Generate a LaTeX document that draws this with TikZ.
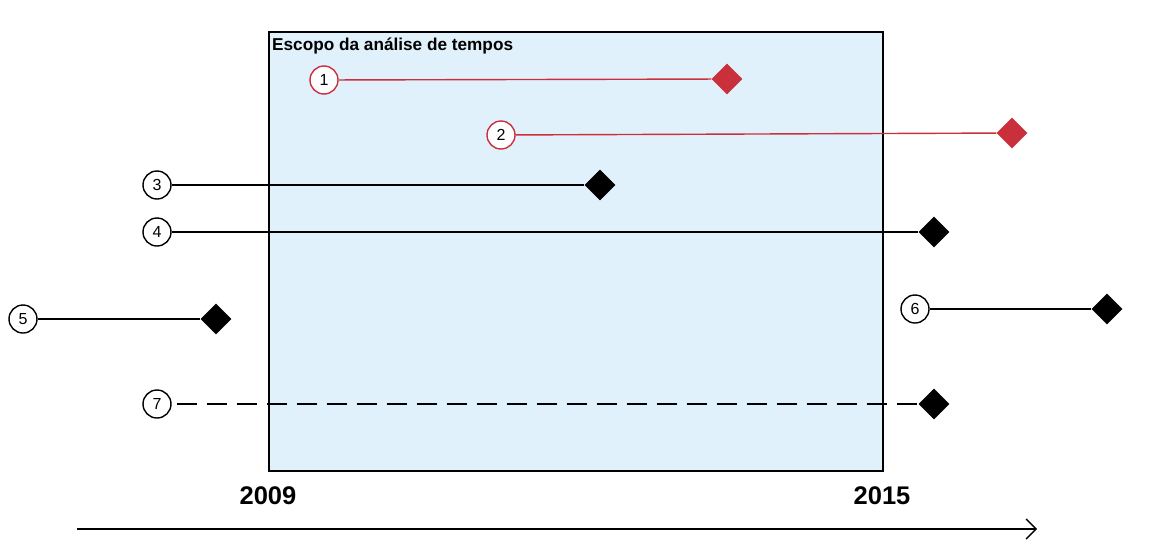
\documentclass[tikz,border=0pt]{standalone}
\usepackage{fontspec}
\setmainfont{Liberation Sans}
\usetikzlibrary{shapes.geometric,arrows.meta}
\definecolor{scopefill}{RGB}{225,241,252}
\definecolor{redline}{RGB}{201,48,60}
\tikzset{
  x=1pt,y=-1pt,
  num/.style={circle,draw,line width=1.4pt,fill=white,minimum size=28pt,inner sep=0pt,font=\fontsize{16}{16}\selectfont},
  dia/.style={diamond,fill=black,minimum size=31pt,inner sep=0pt},
  redc/.style={draw=redline},
  redd/.style={fill=redline},
  conn/.style={line width=1.4pt},
  yr/.style={font=\fontsize{25.5}{25.5}\selectfont\bfseries,inner sep=0pt}
}
\begin{document}
\begin{tikzpicture}
\useasboundingbox (0,0) rectangle (1153,557);
\node[draw,line width=1.8pt,fill=scopefill,minimum width=614pt,minimum height=439pt,inner sep=0pt,anchor=north west] (scope) at (268,31) {};
\node[anchor=base west,inner sep=0pt,font=\fontsize{17.2}{17.2}\selectfont\bfseries] (title) at (272,50) {Escopo da análise de tempos};
% 1
\node[num,redc] (c1) at (324,80) {1};
\node[dia,redd] (d1) at (727,79) {};
\draw[conn,redline] (c1) -- (d1);
% 2
\node[num,redc] (c2) at (501,135) {2};
\node[dia,redd] (d2) at (1012,133) {};
\draw[conn,redline] (c2) -- (d2);
% 3
\node[num] (c3) at (157,185) {3};
\node[dia] (d3) at (600,185) {};
\draw[conn] (c3) -- (d3);
% 4
\node[num] (c4) at (157,232) {4};
\node[dia] (d4) at (934,232) {};
\draw[conn] (c4) -- (d4);
% 5
\node[num] (c5) at (23,319) {5};
\node[dia] (d5) at (216,319) {};
\draw[conn] (c5) -- (d5);
% 6
\node[num] (c6) at (915,309) {6};
\node[dia] (d6) at (1107,309) {};
\draw[conn] (c6) -- (d6);
% 7
\node[num] (c7) at (157,404) {7};
\node[dia] (d7) at (934,404) {};
\draw[conn,dash pattern=on 20pt off 10pt,dash phase=-5pt] (c7) -- (d7);
% years
\node[yr] (y1) at (268,496) {2009};
\node[yr] (y2) at (882,496) {2015};
% axis
\coordinate (a0) at (77,529);
\coordinate (a1) at (1037,529);
\draw[line width=1.4pt,-{Straight Barb[length=10pt,width=20pt,line width=1.4pt]}] (a0) -- (a1);
\end{tikzpicture}
\end{document}
